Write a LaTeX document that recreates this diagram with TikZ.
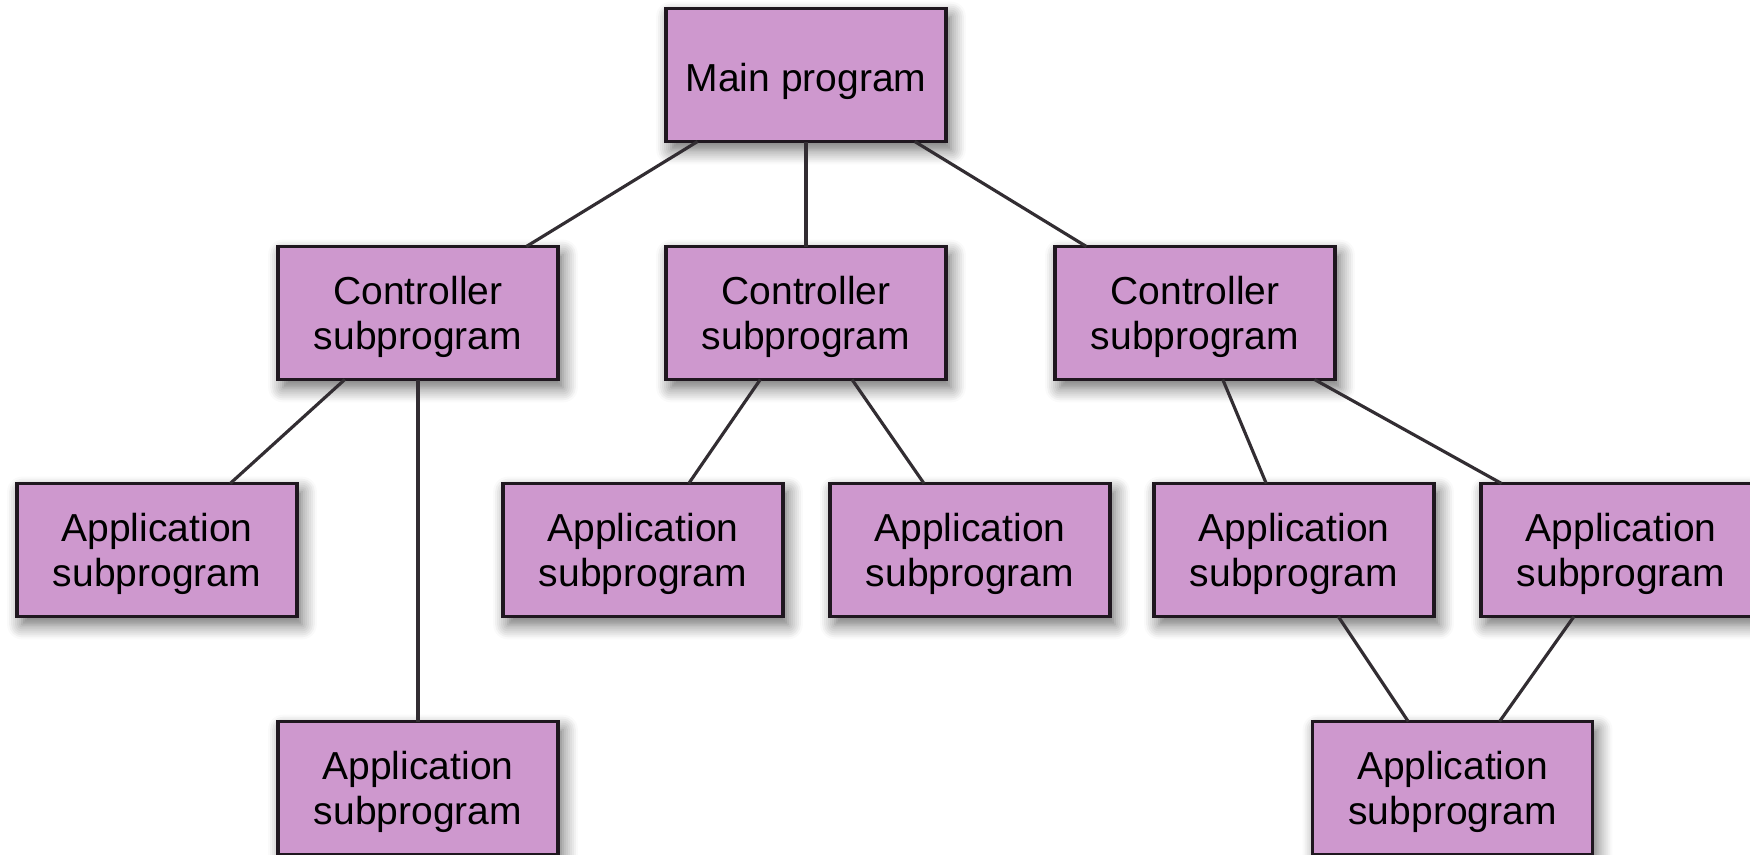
\documentclass[tikz,border=0pt]{standalone}
\usepackage{fontspec}
\setmainfont{Liberation Sans}
\usepackage{tikz}
\usetikzlibrary{shapes,positioning,calc,shadows.blur}
\definecolor{boxpink}{RGB}{206,152,206}
\definecolor{edgegray}{RGB}{50,45,50}
\tikzset{prog/.style={rectangle, draw=black!85!boxpink, line width=0.9pt, fill=boxpink, align=center,
 minimum width=2.8cm, minimum height=1.33cm, inner sep=2pt, outer sep=0pt, text height=11.5pt,
 font=\fontsize{11.1}{12.7}\selectfont,
 blur shadow={shadow xshift=0.05cm, shadow yshift=-0.08cm, shadow blur steps=8, shadow blur radius=0.8ex, shadow opacity=60}}}
\tikzset{ctrl/.style={prog, text height=23pt}}
\tikzset{app/.style={prog, text height=23pt}}
\tikzset{line/.style={draw=edgegray, line width=0.9pt}}

\begin{document}
\begin{tikzpicture}
        \useasboundingbox (0,0) rectangle (17.5,-8.54);
        \node[prog] (main) at (8.06,-0.75) {Main program};
        \node[ctrl, below=1.05cm of main]   (ctrlB){Controller\\subprogram};
        \node[ctrl, left=1.08cm of ctrlB]   (ctrlA){Controller\\subprogram};
        \node[ctrl, right=1.09cm of ctrlB]  (ctrlC){Controller\\subprogram};

        \node[app, below=1.04cm of ctrlA, xshift=-2.61cm] (appA){Application\\subprogram};
        \node[app, below=1.04cm of ctrlB, xshift=-1.63cm] (appB){Application\\subprogram};
        \node[app, right=0.47cm of appB]                  (appC){Application\\subprogram};
        \node[app, below=1.04cm of ctrlC, xshift=0.99cm]  (appD){Application\\subprogram};
        \node[app, right=0.47cm of appD]                  (appE){Application\\subprogram};

        \node[app, below=3.42cm of ctrlA] (appF){Application\\subprogram};
        \node[app] (appG) at ($(appD)!0.5!(appE)+(-0.05,-2.38)$) {Application\\subprogram};

        \path[line] (main) --  (ctrlA);
        \path[line] (main) --  (ctrlB);
        \path[line] (main) --  (ctrlC);
        \path[line] (ctrlA) -- (appA);
        \path[line] (ctrlA) -- (appF);
        \path[line] (ctrlB) -- (appB);
        \path[line] (ctrlB) -- (appC);
        \path[line] (ctrlC) -- (appD);
        \path[line] (ctrlC) -- (appE);
        \path[line] (appD) --  (appG);
        \path[line] (appE) --  (appG);
      \end{tikzpicture}
\end{document}
